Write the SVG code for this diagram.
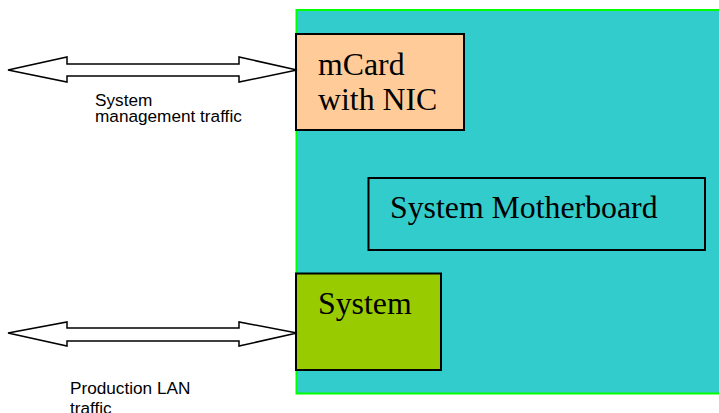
<svg xmlns="http://www.w3.org/2000/svg" width="719" height="413" viewBox="0 0 719 413">
  <style>
    .box { stroke: #000; stroke-width: 2; }
    .serif { font-family: "Liberation Serif", "Times New Roman", serif; font-size: 31.8px; fill: #000; }
    .label { font-family: "Liberation Sans", Arial, sans-serif; font-size: 17.2px; fill: #000; }
    .arrow { fill: #fff; stroke: #000; stroke-width: 1.5; stroke-linejoin: miter; }
  </style>
  <rect width="719" height="413" fill="#fff"/>

  <g id="motherboard-area">
    <rect x="296.5" y="10" width="430" height="383.5" fill="#33CCCC" stroke="#00FF00" stroke-width="2"/>
  </g>

  <g id="mcard">
    <rect class="box" x="296" y="34" width="168" height="96" fill="#FFCC99"/>
    <text class="serif" x="318" y="75">mCard</text>
    <text class="serif" x="318" y="110">with NIC</text>
  </g>

  <g id="system-motherboard">
    <rect class="box" x="368.5" y="178" width="336.5" height="72" fill="none"/>
    <text class="serif" x="390" y="218">System Motherboard</text>
  </g>

  <g id="system">
    <rect class="box" x="296" y="273.5" width="145" height="96.5" fill="#99CC00"/>
    <text class="serif" x="318" y="314">System</text>
  </g>

  <g id="connectors">
    <!-- management traffic double arrow -->
    <polygon class="arrow" points="8,70 67,57 67,64 239,64 239,57 297,70 239,82 239,76 67,76 67,82"/>
    <!-- production LAN double arrow -->
    <polygon class="arrow" points="8,333 67,322 67,328 239,328 239,322 297,333 239,346 239,341 67,341 67,346"/>
  </g>

  <g id="labels">
    <text class="label" x="95" y="105.5">System</text>
    <text class="label" x="95" y="122">management traffic</text>
    <text class="label" x="70" y="394">Production LAN</text>
    <text class="label" x="70" y="414">traffic</text>
  </g>
</svg>
